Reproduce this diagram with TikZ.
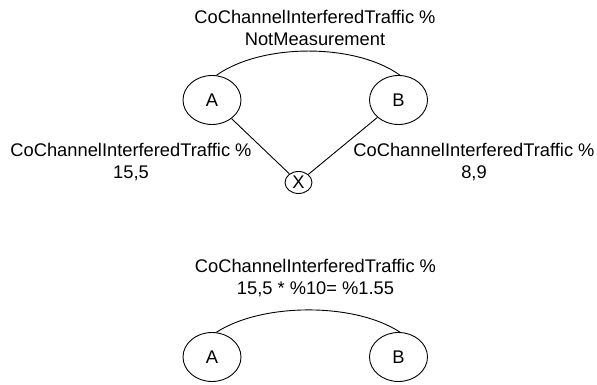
\documentclass[tikz,border=0pt]{standalone}
\usepackage{fontspec}
\setmainfont{Liberation Sans}
\usetikzlibrary{shapes.geometric}
\begin{document}
\begin{tikzpicture}[x=1pt,y=1pt,
  every node/.style={font=\fontsize{18.3}{22}\selectfont},
  station/.style={draw, ellipse, line width=0.9pt, inner sep=0pt,
                  minimum width=58pt, minimum height=49pt},
  probe/.style={draw, ellipse, line width=0.9pt, inner sep=0pt,
                minimum width=27pt, minimum height=22pt},
  link/.style={line width=0.9pt},
  caption/.style={align=center, inner sep=0pt}]
\useasboundingbox (0,0) rectangle (597,385);

% upper case: two cells and the interfering cell X
\node[station] (A) at (212,285) {A};
\node[station] (B) at (398.5,285) {B};
\node[probe]   (X) at (298.5,202.5) {X};

\draw[link] (A.80) .. controls (262,342) and (355,342) .. (B.87);
\draw[link] (A) -- (X);
\draw[link] (B) -- (X);

\node[caption] (topcap)   at (315,357) {CoChannelInterferedTraffic \%\\NotMeasurement};
\node[caption] (leftcap)  at (131,223) {CoChannelInterferedTraffic \%\\15,5};
\node[caption] (rightcap) at (474,223) {CoChannelInterferedTraffic \%\\8,9};

% lower case: derived value between A and B
\node[station] (A2) at (212,28) {A};
\node[station] (B2) at (398.5,28) {B};
\draw[link] (A2.80) .. controls (262,82.5) and (355,82.5) .. (B2.87);

\node[caption] (botcap) at (315.5,107) {CoChannelInterferedTraffic \%\\15,5 * \%10= \%1.55};
\end{tikzpicture}
\end{document}
